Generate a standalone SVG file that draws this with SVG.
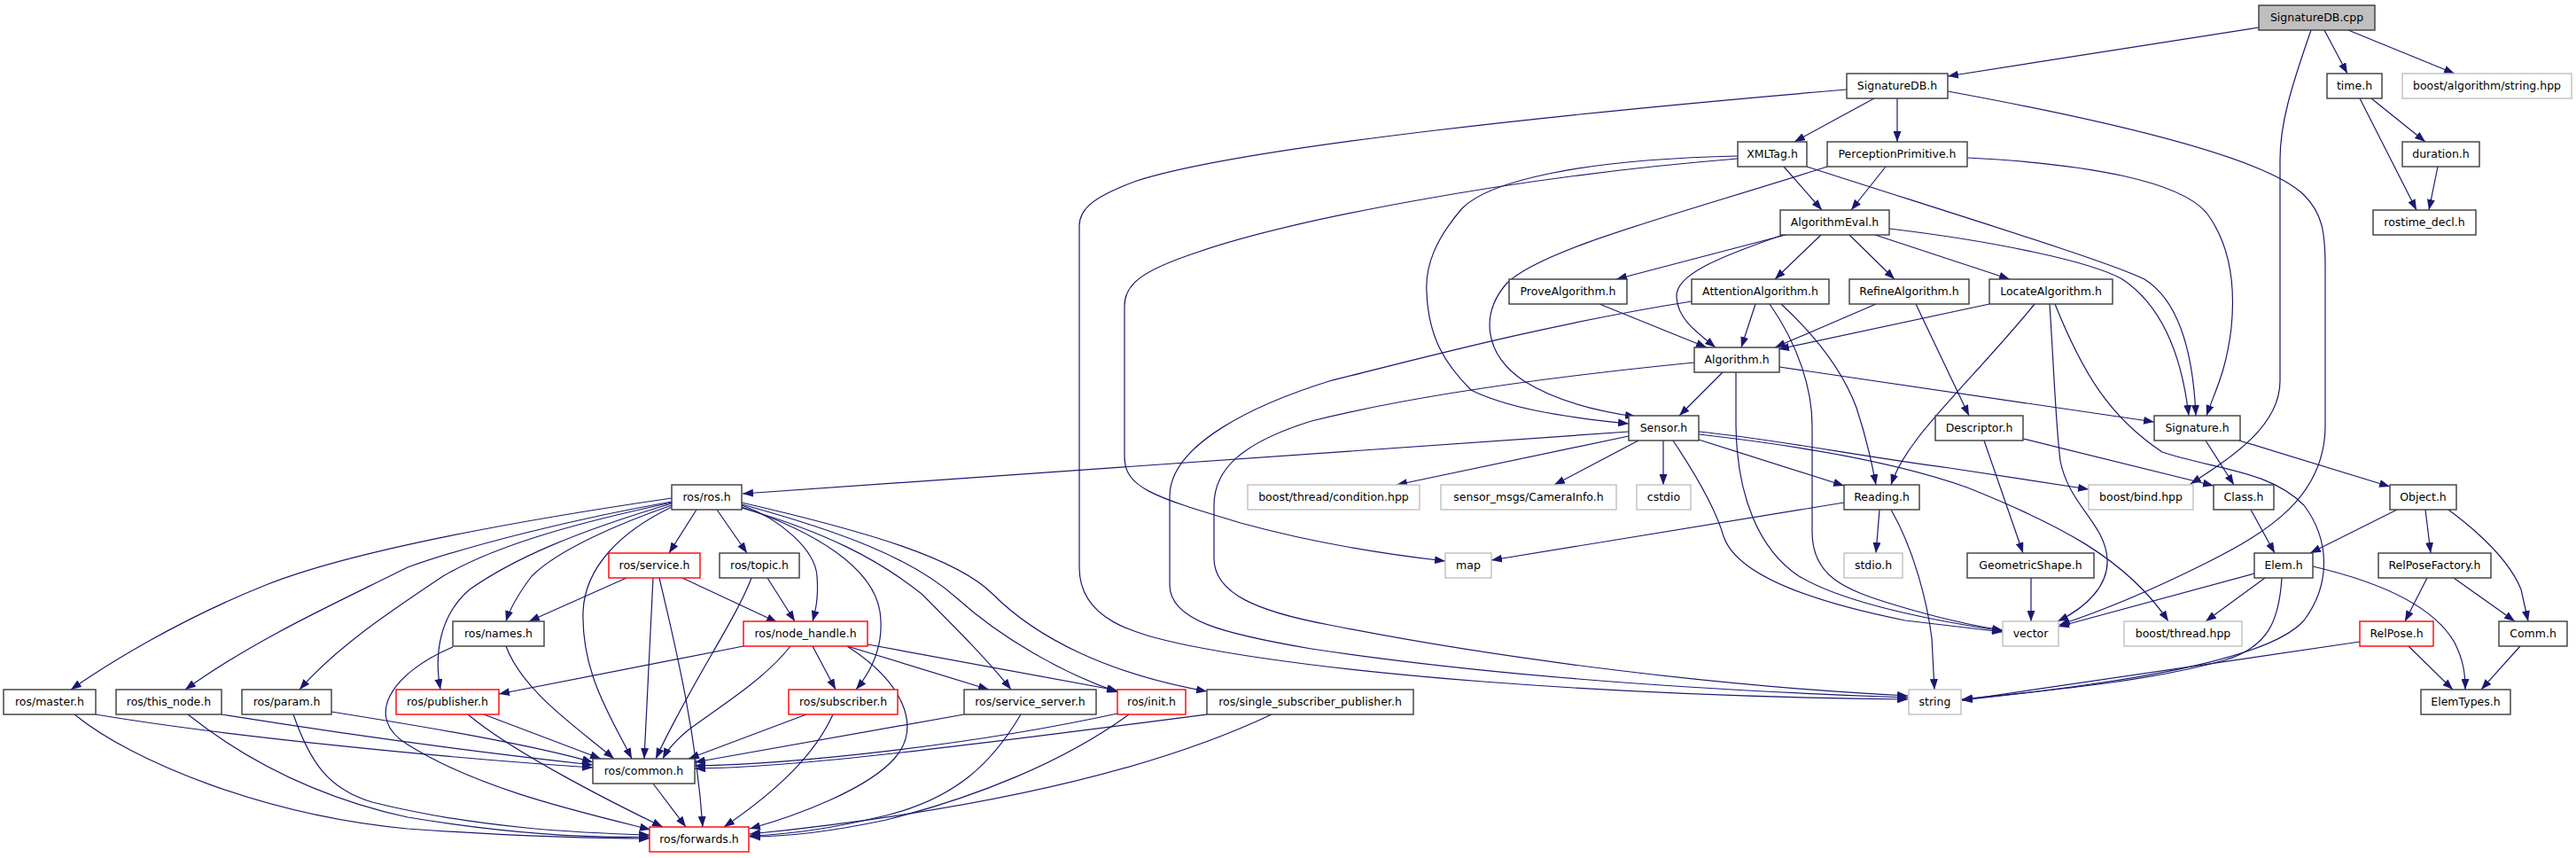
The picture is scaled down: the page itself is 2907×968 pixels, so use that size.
<svg xmlns="http://www.w3.org/2000/svg" width="2907" height="968" viewBox="0 0 2907 968">
<defs>
<marker id="ah" viewBox="0 0 12 9" refX="12" refY="4.5" markerWidth="12" markerHeight="9" markerUnits="userSpaceOnUse" orient="auto"><path d="M0,0 L12,4.5 L0,9 z" fill="#191970"/></marker>
<style>
.node rect{fill:#fff;stroke:#3a3a3a;stroke-width:1.4}
.node.g rect{stroke:#bfbfbf}
.node.r rect{stroke:#ff0000}
.node.root rect{fill:#bfbfbf}
.node text{font-family:"DejaVu Sans","Liberation Sans",sans-serif;font-size:12.5px;fill:#000;text-anchor:middle}
#edges path{fill:none;stroke:#191970;stroke-width:1.2;marker-end:url(#ah)}
</style>
</defs>
<rect width="2907" height="968" fill="#fff"/>
<g id="edges">
<path d="M2549,31 L2198,86"/>
<path d="M2623,34 L2649,83"/>
<path d="M2650,34 L2770,83"/>
<path d="M2608,34 C2585,100 2573,140 2573,180 L2573,430 C2573,480 2520,515 2472,546"/>
<path d="M2676,111 L2737,160"/>
<path d="M2663,111 L2727,237"/>
<path d="M2751,188 L2741,237"/>
<path d="M2115,111 L2025,160"/>
<path d="M2141,111 L2141,160"/>
<path d="M2084,101 C1800,125 1400,165 1280,205 C1235,222 1218,235 1218,255 L1218,640 C1218,700 1280,715 1340,728 C1500,760 1800,785 2153,789"/>
<path d="M2198,103 C2400,140 2560,180 2600,220 C2620,240 2624,260 2624,300 L2624,480 C2624,560 2560,600 2490,635 C2430,665 2370,690 2324,705"/>
<path d="M2013,188 L2056,237"/>
<path d="M1961,176 C1780,180 1680,205 1650,235 C1620,270 1608,300 1610,330 C1612,380 1630,410 1660,440 C1700,460 1760,470 1838,478"/>
<path d="M1961,179 C1700,200 1450,250 1350,285 C1290,305 1269,320 1269,345 L1269,515 C1269,550 1300,560 1400,590 C1480,612 1560,625 1631,633"/>
<path d="M2039,188 C2200,240 2380,295 2420,315 C2460,340 2475,400 2478,469"/>
<path d="M2128,188 L2089,237"/>
<path d="M2062,188 C1900,240 1740,280 1700,320 C1670,355 1675,400 1720,430 C1760,455 1810,465 1846,470"/>
<path d="M2220,178 C2360,185 2460,205 2490,240 C2520,280 2522,330 2518,370 C2512,420 2500,440 2490,469"/>
<path d="M2015,265 L1824,315"/>
<path d="M2055,265 L2003,315"/>
<path d="M2087,265 L2138,315"/>
<path d="M2116,265 L2268,315"/>
<path d="M2012,265 C1940,290 1890,310 1892,335 C1893,360 1915,375 1936,392"/>
<path d="M2132,258 C2250,272 2360,295 2395,315 C2440,345 2462,400 2470,469"/>
<path d="M1805,343 L1926,392"/>
<path d="M1981,343 L1965,392"/>
<path d="M1909,340 C1750,365 1600,405 1500,430 C1420,455 1320,500 1320,560 L1320,660 C1320,700 1380,715 1480,732 C1700,765 1950,780 2153,787"/>
<path d="M1912,409 C1750,425 1600,445 1480,475 C1400,500 1370,530 1370,570 L1370,630 C1370,670 1420,690 1500,705 C1700,745 1950,775 2153,785"/>
<path d="M2010,343 C2050,380 2080,420 2095,460 C2105,490 2112,520 2117,547"/>
<path d="M1997,343 C2030,390 2045,440 2045,480 L2045,600 C2045,650 2080,665 2140,683 C2180,695 2220,705 2260,711"/>
<path d="M2117,343 L2003,392"/>
<path d="M2162,343 L2222,469"/>
<path d="M2245,343 L2007,394"/>
<path d="M2296,343 C2250,400 2180,470 2160,500 C2145,520 2138,535 2134,547"/>
<path d="M2313,343 C2318,420 2320,480 2325,520 C2335,570 2375,590 2378,630 C2380,660 2355,685 2322,701"/>
<path d="M2319,343 C2350,420 2380,470 2440,510 C2500,530 2560,530 2600,570 C2630,610 2630,660 2600,700 C2560,745 2400,770 2214,790"/>
<path d="M1944,420 L1895,469"/>
<path d="M1959,420 L1959,480 C1960,560 1985,620 2030,650 C2080,680 2180,700 2260,712"/>
<path d="M2008,414 L2431,476"/>
<path d="M1838,487 L838,557"/>
<path d="M1838,492 L1576,547"/>
<path d="M1849,497 L1754,547"/>
<path d="M1877,497 L1877,547"/>
<path d="M1917,496 L2081,548"/>
<path d="M1917,487 C2000,495 2100,515 2200,528 L2357,552"/>
<path d="M1917,490 C2050,505 2150,525 2220,550 C2320,590 2400,630 2447,701"/>
<path d="M1888,497 C1910,530 1935,570 1945,605 C1960,650 2050,680 2150,700 L2260,713"/>
<path d="M2081,567 L1683,632"/>
<path d="M2121,575 L2117,624"/>
<path d="M2134,575 C2160,620 2175,680 2180,720 L2183,778"/>
<path d="M2239,497 L2283,624"/>
<path d="M2283,495 L2498,548"/>
<path d="M2292,652 L2292,701"/>
<path d="M2489,497 L2521,547"/>
<path d="M2527,497 L2697,549"/>
<path d="M2540,575 L2567,624"/>
<path d="M2705,575 L2607,624"/>
<path d="M2737,575 L2743,624"/>
<path d="M2763,575 C2810,610 2835,640 2845,665 L2853,701"/>
<path d="M2544,647 L2323,707"/>
<path d="M2556,652 L2489,701"/>
<path d="M2575,652 C2572,700 2560,730 2510,745 C2420,770 2300,780 2214,789"/>
<path d="M2610,639 C2700,660 2750,690 2770,725 C2780,745 2782,760 2782,778"/>
<path d="M2739,652 L2714,701"/>
<path d="M2769,652 L2838,701"/>
<path d="M2718,729 L2768,778"/>
<path d="M2663,724 L2214,790"/>
<path d="M2844,729 L2800,778"/>
<path d="M758,562 C600,585 400,620 300,660 C200,700 120,750 80,778"/>
<path d="M758,566 C650,585 530,615 460,640 C380,680 290,720 209,778"/>
<path d="M758,567 C650,590 560,615 500,650 C440,690 380,730 338,778"/>
<path d="M758,568 C650,600 580,630 530,665 C495,695 490,740 497,778"/>
<path d="M758,570 C700,590 630,620 600,650 C585,670 576,685 571,701"/>
<path d="M758,572 C700,600 660,640 658,690 C656,760 690,810 713,856"/>
<path d="M786,575 L755,624"/>
<path d="M809,575 L843,624"/>
<path d="M837,570 C880,585 920,620 922,650 C924,675 920,690 917,701"/>
<path d="M837,572 C920,600 985,640 993,690 C998,725 985,755 966,778"/>
<path d="M837,573 C930,600 990,630 1040,670 C1080,710 1115,745 1141,778"/>
<path d="M837,569 C950,600 1030,630 1080,675 C1130,720 1200,760 1262,781"/>
<path d="M837,567 C980,600 1080,630 1120,670 C1170,720 1250,760 1362,780"/>
<path d="M707,652 L597,701"/>
<path d="M770,652 L877,702"/>
<path d="M737,652 L727,856"/>
<path d="M744,652 C760,720 785,820 793,933"/>
<path d="M866,652 L897,701"/>
<path d="M848,652 C830,700 780,770 740,856"/>
<path d="M571,729 C590,780 650,820 693,856"/>
<path d="M511,730 C440,760 410,810 460,840 C540,890 650,915 734,936"/>
<path d="M839,729 L563,783"/>
<path d="M892,729 C860,770 800,805 775,825 C762,836 753,846 748,856"/>
<path d="M917,729 L943,778"/>
<path d="M956,729 L1116,778"/>
<path d="M979,727 L1261,779"/>
<path d="M956,729 C1020,770 1040,820 1010,855 C980,890 900,920 846,935"/>
<path d="M546,806 L678,856"/>
<path d="M528,806 C580,850 700,910 748,933"/>
<path d="M108,806 C250,830 500,855 669,866"/>
<path d="M84,806 C150,860 300,920 460,935 C600,945 680,946 733,946"/>
<path d="M250,806 C400,830 550,850 669,863"/>
<path d="M212,806 C280,860 360,900 460,922 C600,945 690,945 733,944"/>
<path d="M374,803 C480,820 600,840 669,860"/>
<path d="M331,806 C350,860 370,890 420,905 C540,935 660,940 733,942"/>
<path d="M737,884 L774,933"/>
<path d="M910,806 L777,856"/>
<path d="M940,806 C920,850 880,890 817,933"/>
<path d="M1088,806 L784,860"/>
<path d="M1152,806 C1120,860 1080,900 1000,920 C930,937 880,942 846,943"/>
<path d="M1261,805 C1100,840 900,862 784,864"/>
<path d="M1274,806 C1200,860 1100,900 1000,925 C930,940 880,944 846,944"/>
<path d="M1362,806 C1100,840 900,866 784,867"/>
<path d="M1435,806 C1300,870 1100,915 846,941"/>
</g>
<g id="n-SignatureDB_cpp" class="node root"><rect x="2549" y="6" width="131" height="28"/><text x="2614.5" y="24">SignatureDB.cpp</text></g>
<g id="n-SignatureDB_h" class="node"><rect x="2084" y="83" width="114" height="28"/><text x="2141" y="101">SignatureDB.h</text></g>
<g id="n-time_h" class="node"><rect x="2626" y="83" width="62" height="28"/><text x="2657" y="101">time.h</text></g>
<g id="n-boost_algorithm_string" class="node g"><rect x="2711" y="83" width="191" height="28"/><text x="2806.5" y="101">boost/algorithm/string.hpp</text></g>
<g id="n-XMLTag_h" class="node"><rect x="1961" y="160" width="78" height="28"/><text x="2000" y="178">XMLTag.h</text></g>
<g id="n-PerceptionPrimitive_h" class="node"><rect x="2062" y="160" width="158" height="28"/><text x="2141" y="178">PerceptionPrimitive.h</text></g>
<g id="n-duration_h" class="node"><rect x="2711" y="160" width="87" height="28"/><text x="2754.5" y="178">duration.h</text></g>
<g id="n-AlgorithmEval_h" class="node"><rect x="2009" y="237" width="123" height="28"/><text x="2070.5" y="255">AlgorithmEval.h</text></g>
<g id="n-rostime_decl_h" class="node"><rect x="2678" y="237" width="116" height="28"/><text x="2736" y="255">rostime_decl.h</text></g>
<g id="n-ProveAlgorithm_h" class="node"><rect x="1703" y="315" width="133" height="28"/><text x="1769.5" y="333">ProveAlgorithm.h</text></g>
<g id="n-AttentionAlgorithm_h" class="node"><rect x="1909" y="315" width="155" height="28"/><text x="1986.5" y="333">AttentionAlgorithm.h</text></g>
<g id="n-RefineAlgorithm_h" class="node"><rect x="2087" y="315" width="135" height="28"/><text x="2154.5" y="333">RefineAlgorithm.h</text></g>
<g id="n-LocateAlgorithm_h" class="node"><rect x="2245" y="315" width="139" height="28"/><text x="2314.5" y="333">LocateAlgorithm.h</text></g>
<g id="n-Algorithm_h" class="node"><rect x="1912" y="392" width="96" height="28"/><text x="1960" y="410">Algorithm.h</text></g>
<g id="n-Sensor_h" class="node"><rect x="1838" y="469" width="79" height="28"/><text x="1877.5" y="487">Sensor.h</text></g>
<g id="n-Descriptor_h" class="node"><rect x="2184" y="469" width="99" height="28"/><text x="2233.5" y="487">Descriptor.h</text></g>
<g id="n-Signature_h" class="node"><rect x="2431" y="469" width="97" height="28"/><text x="2479.5" y="487">Signature.h</text></g>
<g id="n-ros_ros_h" class="node"><rect x="758" y="547" width="79" height="28"/><text x="797.5" y="565">ros/ros.h</text></g>
<g id="n-boost_thread_condition" class="node g"><rect x="1408" y="547" width="194" height="28"/><text x="1505" y="565">boost/thread/condition.hpp</text></g>
<g id="n-sensor_msgs_CameraInfo" class="node g"><rect x="1626" y="547" width="198" height="28"/><text x="1725" y="565">sensor_msgs/CameraInfo.h</text></g>
<g id="n-cstdio" class="node g"><rect x="1847" y="547" width="61" height="28"/><text x="1877.5" y="565">cstdio</text></g>
<g id="n-Reading_h" class="node"><rect x="2081" y="547" width="85" height="28"/><text x="2123.5" y="565">Reading.h</text></g>
<g id="n-boost_bind" class="node g"><rect x="2357" y="547" width="118" height="28"/><text x="2416" y="565">boost/bind.hpp</text></g>
<g id="n-Class_h" class="node"><rect x="2498" y="547" width="68" height="28"/><text x="2532" y="565">Class.h</text></g>
<g id="n-Object_h" class="node"><rect x="2697" y="547" width="75" height="28"/><text x="2734.5" y="565">Object.h</text></g>
<g id="n-ros_service_h" class="node r"><rect x="687" y="624" width="103" height="28"/><text x="738.5" y="642">ros/service.h</text></g>
<g id="n-ros_topic_h" class="node"><rect x="812" y="624" width="90" height="28"/><text x="857" y="642">ros/topic.h</text></g>
<g id="n-map" class="node g"><rect x="1631" y="624" width="52" height="28"/><text x="1657" y="642">map</text></g>
<g id="n-stdio_h" class="node g"><rect x="2081" y="624" width="66" height="28"/><text x="2114" y="642">stdio.h</text></g>
<g id="n-GeometricShape_h" class="node"><rect x="2220" y="624" width="143" height="28"/><text x="2291.5" y="642">GeometricShape.h</text></g>
<g id="n-Elem_h" class="node"><rect x="2544" y="624" width="66" height="28"/><text x="2577" y="642">Elem.h</text></g>
<g id="n-RelPoseFactory_h" class="node"><rect x="2684" y="624" width="127" height="28"/><text x="2747.5" y="642">RelPoseFactory.h</text></g>
<g id="n-ros_names_h" class="node"><rect x="511" y="701" width="103" height="28"/><text x="562.5" y="719">ros/names.h</text></g>
<g id="n-ros_node_handle_h" class="node r"><rect x="839" y="701" width="140" height="28"/><text x="909" y="719">ros/node_handle.h</text></g>
<g id="n-vector" class="node g"><rect x="2260" y="701" width="63" height="28"/><text x="2291.5" y="719">vector</text></g>
<g id="n-boost_thread" class="node g"><rect x="2397" y="701" width="133" height="28"/><text x="2463.5" y="719">boost/thread.hpp</text></g>
<g id="n-RelPose_h" class="node r"><rect x="2663" y="701" width="83" height="28"/><text x="2704.5" y="719">RelPose.h</text></g>
<g id="n-Comm_h" class="node"><rect x="2820" y="701" width="77" height="28"/><text x="2858.5" y="719">Comm.h</text></g>
<g id="n-ros_master_h" class="node"><rect x="4" y="778" width="104" height="28"/><text x="56" y="796">ros/master.h</text></g>
<g id="n-ros_this_node_h" class="node"><rect x="131" y="778" width="119" height="28"/><text x="190.5" y="796">ros/this_node.h</text></g>
<g id="n-ros_param_h" class="node"><rect x="273" y="778" width="101" height="28"/><text x="323.5" y="796">ros/param.h</text></g>
<g id="n-ros_publisher_h" class="node r"><rect x="447" y="778" width="116" height="28"/><text x="505" y="796">ros/publisher.h</text></g>
<g id="n-ros_subscriber_h" class="node r"><rect x="890" y="778" width="123" height="28"/><text x="951.5" y="796">ros/subscriber.h</text></g>
<g id="n-ros_service_server_h" class="node"><rect x="1088" y="778" width="149" height="28"/><text x="1162.5" y="796">ros/service_server.h</text></g>
<g id="n-ros_init_h" class="node r"><rect x="1261" y="778" width="77" height="28"/><text x="1299.5" y="796">ros/init.h</text></g>
<g id="n-ros_single_subscriber_publisher_h" class="node"><rect x="1362" y="778" width="233" height="28"/><text x="1478.5" y="796">ros/single_subscriber_publisher.h</text></g>
<g id="n-string" class="node g"><rect x="2154" y="778" width="59" height="28"/><text x="2183.5" y="796">string</text></g>
<g id="n-ElemTypes_h" class="node"><rect x="2732" y="778" width="101" height="28"/><text x="2782.5" y="796">ElemTypes.h</text></g>
<g id="n-ros_common_h" class="node"><rect x="669" y="856" width="115" height="28"/><text x="726.5" y="874">ros/common.h</text></g>
<g id="n-ros_forwards_h" class="node r"><rect x="733" y="933" width="112" height="28"/><text x="789" y="951">ros/forwards.h</text></g>
</svg>
